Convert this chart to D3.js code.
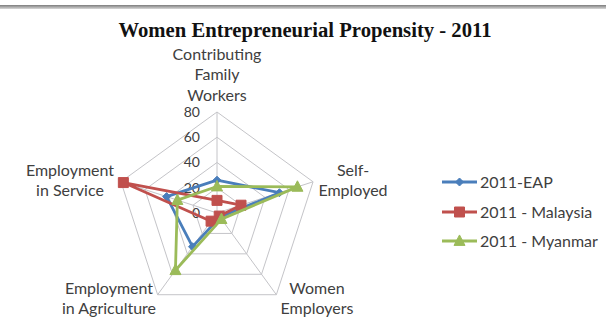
<!DOCTYPE html>
<html>
<head>
<meta charset="utf-8">
<script src="https://cdn.jsdelivr.net/npm/d3@7"></script>
<style>
  html, body { margin: 0; padding: 0; background: #fff; }
  svg { display: block; }
</style>
</head>
<body>
<svg id="chart" width="606" height="328"></svg>
<script>
// Radar axes, clockwise from the top
const categories = [
  ["Contributing", "Family", "Workers"],
  ["Self-", "Employed"],
  ["Women", "Employers"],
  ["Employment", "in Agriculture"],
  ["Employment", "in Service"]
];
const seriesNames = ["2011-EAP", "2011 - Malaysia", "2011 - Myanmar"];
const eapValues      = [26, 52, 4, 33, 42];
const malaysiaValues = [10, 20, 3, 8, 78];
const myanmarValues  = [21, 67, 6, 56, 33];
const tickValues = [0, 20, 40, 60, 80];

const series = [
  { name: seriesNames[0], values: eapValues,      color: "#4a7ebb", marker: "diamond" },
  { name: seriesNames[1], values: malaysiaValues, color: "#c0504d", marker: "square" },
  { name: seriesNames[2], values: myanmarValues,  color: "#9bbb59", marker: "triangle" }
];

const svg = d3.select("#chart");
const cx = 217, cy = 213;

// header rule
const grad = svg.append("defs").append("linearGradient")
  .attr("id", "rule").attr("x1", 0).attr("x2", 0).attr("y1", 0).attr("y2", 1);
grad.append("stop").attr("offset", "0%").attr("stop-color", "#7d7d7d");
grad.append("stop").attr("offset", "100%").attr("stop-color", "#d8d8d8");
svg.append("rect").attr("x", 0).attr("y", 5).attr("width", 606).attr("height", 4)
  .attr("fill", "url(#rule)");

// title
svg.append("text")
  .attr("x", 305).attr("y", 37)
  .attr("text-anchor", "middle")
  .attr("font-family", "'Liberation Serif', 'Times New Roman', serif")
  .attr("font-weight", "bold")
  .attr("font-size", 20)
  .attr("textLength", 373)
  .attr("lengthAdjust", "spacingAndGlyphs")
  .attr("fill", "#111")
  .text("Women Entrepreneurial Propensity - 2011");

const r = d3.scaleLinear().domain([0, 80]).range([0, 101]);
const angle = d3.scaleLinear().domain([0, categories.length]).range([0, 2 * Math.PI]);

const g = svg.append("g").attr("transform", `translate(${cx},${cy})`);

const pt = (i, v) => [Math.sin(angle(i)) * r(v), -Math.cos(angle(i)) * r(v)];

// grid rings
const ringLine = d3.lineRadial().angle((d, i) => angle(i)).radius(d => r(d)).curve(d3.curveLinearClosed);
tickValues.slice(1).forEach(t => {
  g.append("path")
    .attr("d", ringLine(categories.map(() => t)))
    .attr("fill", "none")
    .attr("stroke", "#c4c4c8")
    .attr("stroke-width", 1);
});

// spokes
categories.forEach((c, i) => {
  const [x, y] = pt(i, 80);
  g.append("line").attr("x1", 0).attr("y1", 0).attr("x2", x).attr("y2", y)
    .attr("stroke", "#c4c4c8").attr("stroke-width", 1);
});

// radial tick labels
g.selectAll("text.tick").data(tickValues).join("text")
  .attr("class", "tick")
  .attr("x", -17)
  .attr("y", d => -r(d))
  .attr("dy", "0.35em")
  .attr("text-anchor", "end")
  .attr("font-family", "Lato, 'Open Sans', sans-serif")
  .attr("font-size", 14)
  .attr("fill", "#404040")
  .text(d => d);

// axis labels
const labelPos = [
  { x: 0,   y: -159, anchor: "middle" },
  { x: 136, y: -43,  anchor: "middle" },
  { x: 100, y: 75,   anchor: "middle" },
  { x: -108, y: 75,  anchor: "middle" },
  { x: -147, y: -43, anchor: "middle" }
];
categories.forEach((lines, i) => {
  const p = labelPos[i];
  const t = g.append("text")
    .attr("text-anchor", p.anchor)
    .attr("font-family", "Lato, 'Open Sans', sans-serif")
    .attr("font-size", 16)
    .attr("fill", "#404040");
  lines.forEach((line, k) => {
    t.append("tspan").attr("x", p.x).attr("y", p.y + k * 20.5).attr("dy", "0.35em").text(line);
  });
});

// series
const seriesLine = d3.lineRadial().angle((d, i) => angle(i)).radius(d => r(d)).curve(d3.curveLinearClosed);

function markerPath(type, size) {
  const s = size / 2;
  if (type === "diamond") return `M0,${-s}L${s},0L0,${s}L${-s},0Z`;
  if (type === "square") return `M${-s},${-s}H${s}V${s}H${-s}Z`;
  return `M0,${-s * 1.1}L${s},${s * 0.8}L${-s},${s * 0.8}Z`;
}
const markerSize = { diamond: 8, square: 10, triangle: 11 };

series.forEach(s => {
  g.append("path")
    .attr("d", seriesLine(s.values))
    .attr("fill", "none")
    .attr("stroke", s.color)
    .attr("stroke-width", 2.8)
    .attr("stroke-linejoin", "round");
  s.values.forEach((v, i) => {
    const [x, y] = pt(i, v);
    g.append("path")
      .attr("transform", `translate(${x},${y})`)
      .attr("d", markerPath(s.marker, markerSize[s.marker]))
      .attr("fill", s.color)
      .attr("stroke", s.color);
  });
});

// legend
const legend = svg.append("g");
const legendY = [182, 212, 241];
series.forEach((s, k) => {
  const y = legendY[k];
  legend.append("line").attr("x1", 442).attr("x2", 477).attr("y1", y).attr("y2", y)
    .attr("stroke", s.color).attr("stroke-width", 2.8);
  legend.append("path")
    .attr("transform", `translate(459.5,${y})`)
    .attr("d", markerPath(s.marker, markerSize[s.marker]))
    .attr("fill", s.color).attr("stroke", s.color);
  legend.append("text")
    .attr("x", 480).attr("y", y).attr("dy", "0.35em")
    .attr("font-family", "Lato, 'Open Sans', sans-serif")
    .attr("font-size", 16)
    .attr("fill", "#404040")
    .text(s.name);
});
</script>
</body>
</html>
